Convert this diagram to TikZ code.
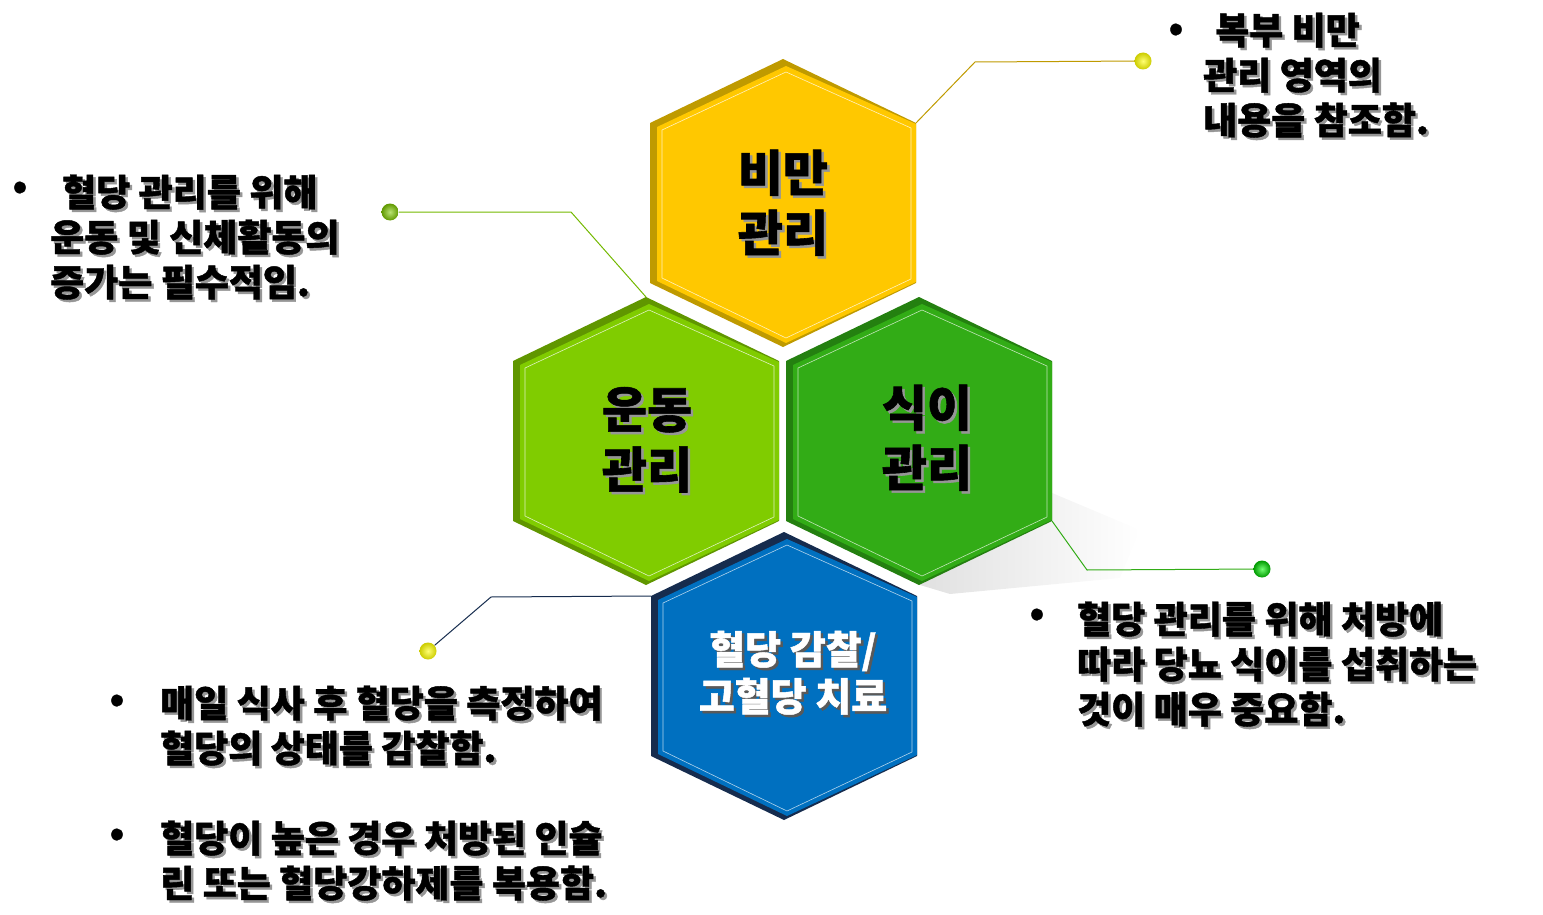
\documentclass[tikz,border=0pt]{standalone}
\usepackage{fontspec}
\setmainfont{Noto Sans CJK KR}[BoldFeatures={FakeBold=1.2}]
\usetikzlibrary{calc}
\definecolor{yel}{RGB}{255,200,0}
\definecolor{yeld}{RGB}{191,154,0}
\definecolor{lgr}{RGB}{128,204,0}
\definecolor{lgrd}{RGB}{96,150,0}
\definecolor{dgr}{RGB}{50,172,22}
\definecolor{dgrd}{RGB}{36,128,16}
\definecolor{blu}{RGB}{0,112,192}
\definecolor{blud}{RGB}{22,44,78}
\definecolor{shadowc}{RGB}{150,150,150}
\newcommand\shd[1]{\makebox[0pt][l]{\hspace*{2.5pt}\raisebox{-2.5pt}{\textcolor{shadowc}{#1}}}#1}
\newcommand\shw[1]{\makebox[0pt][l]{\hspace*{2.5pt}\raisebox{-2.5pt}{\textcolor{black!65}{#1}}}\textcolor{white}{#1}}
\newcommand\hexa[4]{%
  \coordinate (#1-t) at ($(#1)+(0,-144)$);
  \coordinate (#1-ur) at ($(#1)+(133,-80)$);
  \coordinate (#1-lr) at ($(#1)+(133,80)$);
  \coordinate (#1-b) at ($(#1)+(0,144)$);
  \coordinate (#1-ll) at ($(#1)+(-133,80)$);
  \coordinate (#1-ul) at ($(#1)+(-133,-80)$);
  \fill[#3] (#1-t)--(#1-ur)--(#1-lr)--(#1-b)--(#1-ll)--(#1-ul)--cycle;
  \fill[#2] ($(#1)+(3,-137)$)--($(#1)+(133,-79)$)--($(#1)+(133,79)$)--($(#1)+(3,140)$)--($(#1)+(-126,78)$)--($(#1)+(-126,-76)$)--cycle;
  \draw[#4, line width=0.6pt] ($(#1)+(3,-131)$)--($(#1)+(128,-75)$)--($(#1)+(128,76)$)--($(#1)+(3,135)$)--($(#1)+(-121,75)$)--($(#1)+(-121,-73)$)--cycle;
}
\begin{document}
\begin{tikzpicture}[x=1pt,y=-1pt,
  conn/.style={line width=1pt},
  dot/.style={circle, inner sep=0pt, minimum size=17pt, shading=radial},
  hext/.style={align=center, inner sep=0pt, font=\bfseries\fontsize{49}{60}\selectfont},
  hextb/.style={align=center, inner sep=0pt, font=\bfseries\fontsize{39}{47}\selectfont},
  note/.style={align=left, anchor=base west, inner sep=0pt, font=\bfseries\fontsize{37}{45}\selectfont},
  bul/.style={inner sep=0pt, font=\bfseries\fontsize{36}{36}\selectfont}]
\useasboundingbox (0,0) rectangle (1543,915);
% soft shadow
\shade[left color=black!12, right color=white] (1045,490) -- (1140,530) -- (1120,578) -- (950,594) -- (920,585) -- cycle;
% hexagons
\coordinate (Y) at (783,203);
\hexa{Y}{yel}{yeld}{white!75!yel}
\coordinate (L) at (646,441);
\hexa{L}{lgr}{lgrd}{white!75!lgr}
\coordinate (D) at (919,441);
\hexa{D}{dgr}{dgrd}{white!70!dgr}
\coordinate (B) at (784,676);
\hexa{B}{blu}{blud}{white!70!blu}
% hexagon labels
\node[hext] (ty) at (783,204) {\shd{비만}\\\shd{관리}};
\node[hext] (tl) at (647,441) {\shd{운동}\\\shd{관리}};
\node[hext] (td) at (927,439) {\shd{식이}\\\shd{관리}};
\node[hextb] (tb) at (793,674) {\shw{혈당 감찰/}\\\shw{고혈당 치료}};
% dots
\node[dot, inner color=yellow!55!white, outer color=yellow!80!black] (d1) at (1143,61) {};
\node[dot, inner color=lgr!55!white, outer color=lgr!75!black] (d2) at (390,212) {};
\node[dot, inner color=green!55!white, outer color=green!60!black] (d3) at (1262,569) {};
\node[dot, inner color=yellow!55!white, outer color=yellow!80!black] (d4) at (428,651) {};
% bends
\coordinate (k1) at (975,62);
\coordinate (k2) at (571,212);
\coordinate (k3) at (1087,570);
\coordinate (k4) at (491,597);
% connectors
\draw[conn, draw=yeld] (Y-ur) -- (k1) -- (d1);
\draw[conn, draw=lgr!90!black] (L-t) -- (k2) -- (d2);
\draw[conn, draw=dgr] (D-lr) -- (k3) -- (d3);
\draw[conn, draw=blud] (B-ul) -- (k4) -- (d4);
% notes (base anchor = baseline of last line)
\node[bul] (b1) at (1176,32) {•};
\node[note] (n1) at (1203,134) {\hspace*{12pt}\shd{복부 비만}\\\shd{관리 영역의}\\\shd{내용을 참조함.}};
\node[bul] (b2) at (20,190) {•};
\node[note] (n2) at (50,296) {\hspace*{12pt}\shd{혈당 관리를 위해}\\\shd{운동 및 신체활동의}\\\shd{증가는 필수적임.}};
\node[bul] (b3) at (1037,617) {•};
\node[note] (n3) at (1077,723) {\shd{혈당 관리를 위해 처방에}\\\shd{따라 당뇨 식이를 섭취하는}\\\shd{것이 매우 중요함.}};
\node[bul] (b4) at (117,703) {•};
\node[note] (n4) at (160,762) {\shd{매일 식사 후 혈당을 측정하여}\\\shd{혈당의 상태를 감찰함.}};
\node[bul] (b5) at (117,837) {•};
\node[note] (n5) at (160,897) {\shd{혈당이 높은 경우 처방된 인슐}\\\shd{린 또는 혈당강하제를 복용함.}};
\end{tikzpicture}
\end{document}
